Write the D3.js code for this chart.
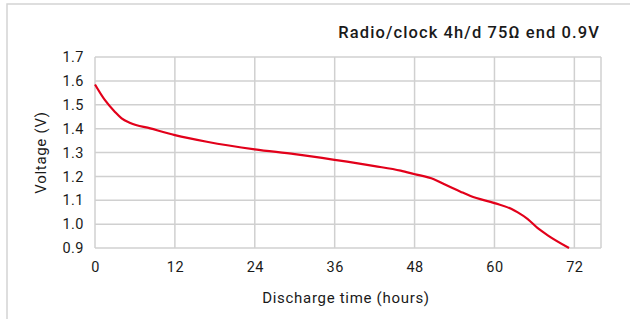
<!DOCTYPE html>
<html>
<head>
<meta charset="utf-8">
<script src="https://cdn.jsdelivr.net/npm/d3@7"></script>
<style>
  body { margin: 0; background: #fff; }
  svg text { font-family: Roboto, "DejaVu Sans", sans-serif; fill: #1a1a1a; }
</style>
</head>
<body>
<div class="plot"></div>
<script>
// Chart data
const hours   = [0, 1.5, 3, 4, 5.3, 8.3, 12, 16.8, 24, 30, 36, 42, 45.9, 47.9, 50.9, 52.4, 54.9, 56.4, 60, 62.5, 63.5, 65, 66.5, 68, 71.2];
const voltage = [1.585, 1.519, 1.47, 1.443, 1.424, 1.401, 1.373, 1.345, 1.313, 1.293, 1.269, 1.243, 1.224, 1.21, 1.188, 1.168, 1.136, 1.118, 1.088, 1.064, 1.049, 1.021, 0.983, 0.953, 0.90];
const xTicks  = [0, 12, 24, 36, 48, 60, 72];
const yTicks  = [0.9, 1.0, 1.1, 1.2, 1.3, 1.4, 1.5, 1.6, 1.7];
const title   = "Radio/clock 4h/d 75\u03A9 end 0.9V";

const W = 630, H = 319;
const margin = {top: 57, right: 29, bottom: 71, left: 95};
const w = W - margin.left - margin.right;
const h = H - margin.top - margin.bottom;

const svg = d3.select(".plot")
    .append("svg")
        .attr("width", W)
        .attr("height", H);

// outer frame
svg.append("rect")
    .attr("x", 7).attr("y", 4)
    .attr("width", W + 10).attr("height", H + 10)
    .attr("fill", "none")
    .attr("stroke", "#d4d4d4")
    .attr("stroke-width", 1.5);

const g = svg.append("g")
    .attr("transform", "translate(" + margin.left + "," + margin.top + ")");

const x = d3.scaleLinear().domain([0, 76]).range([0, w]);
const y = d3.scaleLinear().domain([0.9, 1.7]).range([h, 0]);

// grid lines
g.selectAll(".hgrid")
    .data(yTicks)
    .enter()
    .append("line")
        .attr("x1", 0).attr("x2", w)
        .attr("y1", d => y(d)).attr("y2", d => y(d))
        .attr("stroke", "#d0d0d0")
        .attr("stroke-width", 1.5);

g.selectAll(".vgrid")
    .data(xTicks.concat([76]))
    .enter()
    .append("line")
        .attr("x1", d => x(d)).attr("x2", d => x(d))
        .attr("y1", 0).attr("y2", h)
        .attr("stroke", "#d0d0d0")
        .attr("stroke-width", 1.5);

// axes (labels only)
const xAxis = d3.axisBottom(x).tickValues(xTicks).tickSize(0).tickPadding(14);
const yAxis = d3.axisLeft(y).tickValues(yTicks).tickSize(0).tickPadding(11)
    .tickFormat(d3.format(".1f"));

g.append("g")
    .attr("transform", "translate(0," + h + ")")
    .call(xAxis)
    .call(a => a.select(".domain").remove())
    .selectAll("text")
        .style("font-size", "14.5px")
        .style("letter-spacing", "0.5px");

g.append("g")
    .call(yAxis)
    .call(a => a.select(".domain").remove())
    .selectAll("text")
        .style("font-size", "14.5px")
        .style("letter-spacing", "0.5px");

// curve
const line = d3.line()
    .x(d => x(d[0]))
    .y(d => y(d[1]))
    .curve(d3.curveMonotoneX);

g.append("path")
    .datum(hours.map((hr, i) => [hr, voltage[i]]))
    .attr("fill", "none")
    .attr("stroke", "#e2001a")
    .attr("stroke-width", 2.2)
    .attr("d", line);

// titles
svg.append("text")
    .attr("x", 600)
    .attr("y", 38)
    .attr("text-anchor", "end")
    .style("font-size", "16.5px")
    .style("font-weight", "500")
    .style("letter-spacing", "1.1px")
    .text(title);

svg.append("text")
    .attr("x", margin.left + w / 2 - 2)
    .attr("y", 303)
    .attr("text-anchor", "middle")
    .style("font-size", "15px")
    .style("letter-spacing", "0.7px")
    .text("Discharge time (hours)");

svg.append("text")
    .attr("transform", "translate(46," + (margin.top + h / 2) + ") rotate(-90)")
    .attr("text-anchor", "middle")
    .style("font-size", "15px")
    .style("letter-spacing", "0.7px")
    .text("Voltage (V)");
</script>
</body>
</html>
